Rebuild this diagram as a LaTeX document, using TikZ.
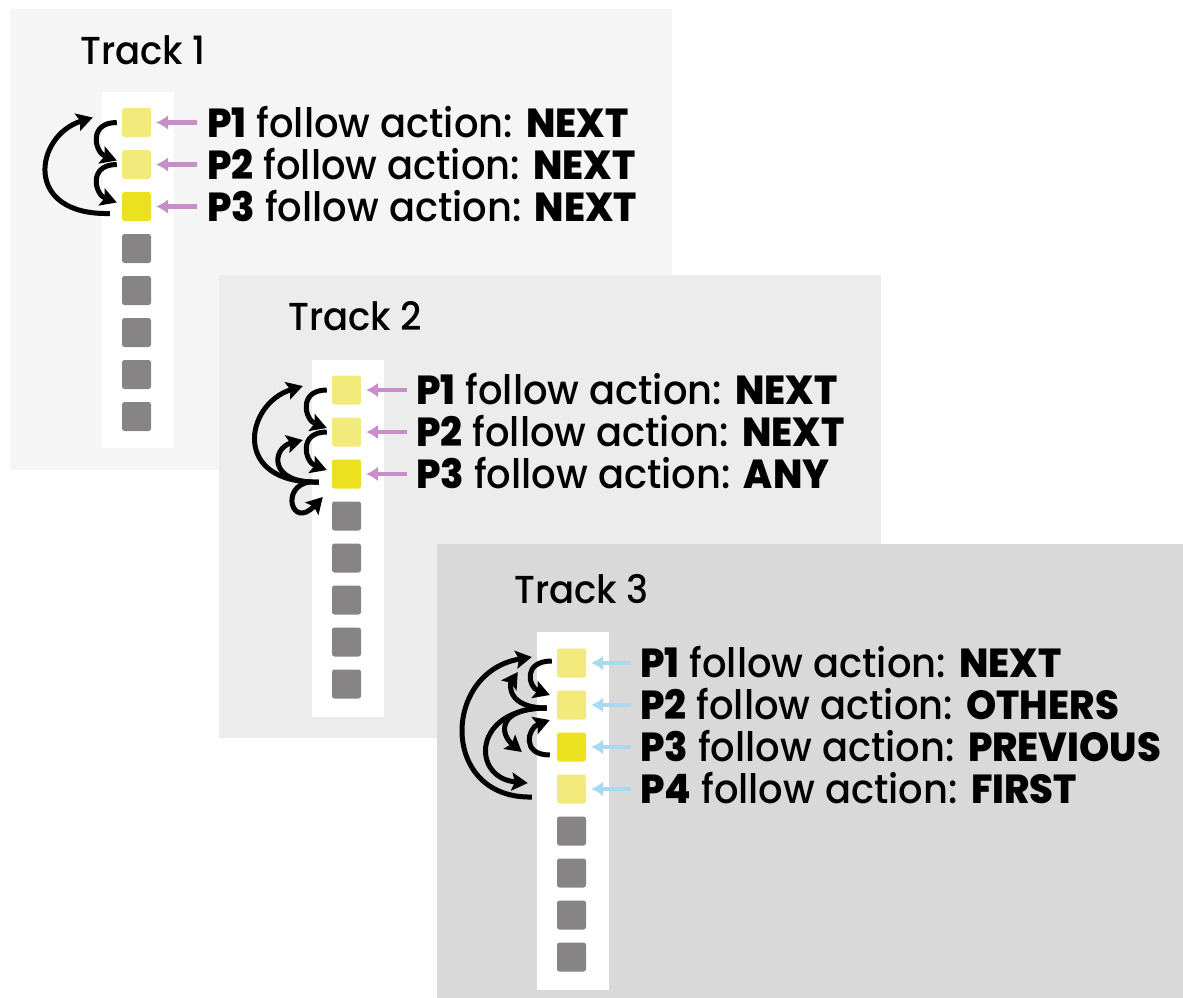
\documentclass[tikz,border=0pt]{standalone}
\usepackage{fontspec}
\setmainfont{Poppins}[UprightFont=* Medium, BoldFont=* ExtraBold, FakeStretch=0.95]
\usetikzlibrary{arrows.meta,calc}
\definecolor{pA}{HTML}{F5F5F5}
\definecolor{pB}{HTML}{ECECEC}
\definecolor{pC}{HTML}{D9D9D9}
\definecolor{ylight}{HTML}{F3EA7C}
\definecolor{ybright}{HTML}{ECE11E}
\definecolor{sqgray}{HTML}{878486}
\definecolor{pinkar}{HTML}{C88EC8}
\definecolor{bluear}{HTML}{A9D8F0}
\tikzset{
  sq/.style={rectangle, rounded corners=2.5pt, minimum size=29pt, inner sep=0pt, draw=none},
  ysq/.style={sq, fill=ylight},
  bsq/.style={sq, fill=ybright},
  gsq/.style={sq, fill=sqgray},
  lbl/.style={anchor=base west, inner sep=0pt, font=\fontsize{40.5}{41}\selectfont},
  ttl/.style={anchor=base west, inner sep=0pt, font=\fontsize{39}{39}\selectfont},
  pinkarrow/.style={draw=pinkar, line width=4.5pt, -{Latex[length=12pt,width=15pt]}},
  bluearrow/.style={draw=bluear, line width=4.5pt, -{Latex[length=12pt,width=15pt]}},
  curv/.style={draw=black, line width=5pt, -{Stealth[length=16pt,width=18pt,inset=3pt]}},
}
\begin{document}
\begin{tikzpicture}[x=1pt,y=-1pt]
\useasboundingbox[fill=white] (0,0) rectangle (1183,998);
% panels
\fill[pA] (10,9) rectangle (672,470);
\fill[pB] (219,275) rectangle (881,738);
\fill[pC] (437,544) rectangle (1183,998);
% white columns
\fill[white] (102,92) rectangle (174,448);
\fill[white] (312,360) rectangle (384,717);
\fill[white] (537,632) rectangle (609,990);
% titles
\node[ttl] (ttl1) at (80,64) {Track 1};
\node[ttl] (ttl2) at (288,330) {Track 2};
\node[ttl] (ttl3) at (514,603) {Track 3};
% ---------- Track 1 ----------
\node[ysq] (t1s1) at (136.5,122.5) {};
\node[ysq] (t1s2) at (136.5,164.5) {};
\node[bsq] (t1s3) at (136.5,206.5) {};
\foreach \i in {4,...,8} \node[gsq] (t1s\i) at (136.5,{122.5+42*(\i-1)}) {};
\node[lbl] (t1l1) at (207,137) {\textbf{P1} follow action: \textbf{NEXT}};
\node[lbl] (t1l2) at (207,179) {\textbf{P2} follow action: \textbf{NEXT}};
\node[lbl] (t1l3) at (207,221) {\textbf{P3} follow action: \textbf{NEXT}};
\foreach \i in {1,2,3} \draw[pinkarrow] ($(t1s\i.east)+(46,0)$) -- ($(t1s\i.east)+(5,0)$);
\draw[curv] ($(t1s1.west)+(-5,0)$) .. controls +(-29,0) and +(-22,-8) .. ($(t1s2.west)+(-5,-4)$);
\draw[curv] ($(t1s2.west)+(-5,0)$) .. controls +(-29,0) and +(-22,-8) .. ($(t1s3.west)+(-5,-4)$);
\draw[curv] ($(t1s3.west)+(-12,7)$) .. controls +(-88,2) and +(-58,18) .. ($(t1s1.west)+(-29,-5)$);
% ---------- Track 2 ----------
\node[ysq] (t2s1) at (346.5,390) {};
\node[ysq] (t2s2) at (346.5,432) {};
\node[bsq] (t2s3) at (346.5,474) {};
\foreach \i in {4,...,8} \node[gsq] (t2s\i) at (346.5,{390+42*(\i-1)}) {};
\node[lbl] (t2l1) at (416,404.5) {\textbf{P1} follow action: \textbf{NEXT}};
\node[lbl] (t2l2) at (416,446.5) {\textbf{P2} follow action: \textbf{NEXT}};
\node[lbl] (t2l3) at (416,488.5) {\textbf{P3} follow action: \textbf{ANY}};
\foreach \i in {1,2,3} \draw[pinkarrow] ($(t2s\i.east)+(46,0)$) -- ($(t2s\i.east)+(5,0)$);
\draw[curv] ($(t2s1.west)+(-5,0)$) .. controls +(-29,0) and +(-22,-8) .. ($(t2s2.west)+(-5,-4)$);
\draw[curv] ($(t2s2.west)+(-5,0)$) .. controls +(-29,0) and +(-22,-8) .. ($(t2s3.west)+(-5,-4)$);
\draw[curv] ($(t2s3.west)+(-13,8)$) .. controls +(-88,2) and +(-58,18) .. ($(t2s1.west)+(-29,-4)$);
\draw[curv] ($(t2s3.west)+(-13,8)$) .. controls +(-51,2) and +(-31,8) .. ($(t2s2.west)+(-29,8)$);
\draw[curv] ($(t2s3.west)+(-22,8)$) .. controls +(-30,4) and +(-31,33) .. ($(t2s4.west)+(-9,-19)$);
% ---------- Track 3 ----------
\node[ysq] (t3s1) at (571.5,663) {};
\node[ysq] (t3s2) at (571.5,705) {};
\node[bsq] (t3s3) at (571.5,747) {};
\node[ysq] (t3s4) at (571.5,789) {};
\foreach \i in {5,...,8} \node[gsq] (t3s\i) at (571.5,{663+42*(\i-1)}) {};
\node[lbl] (t3l1) at (640,677.5) {\textbf{P1} follow action: \textbf{NEXT}};
\node[lbl] (t3l2) at (640,719.5) {\textbf{P2} follow action: \textbf{OTHERS}};
\node[lbl] (t3l3) at (640,761.5) {\textbf{P3} follow action: \textbf{PREVIOUS}};
\node[lbl] (t3l4) at (640,803.5) {\textbf{P4} follow action: \textbf{FIRST}};
\foreach \i in {1,2,3,4} \draw[bluearrow] ($(t3s\i.east)+(45,0)$) -- ($(t3s\i.east)+(5,0)$);
\draw[curv] ($(t3s1.west)+(-5,-2)$) .. controls +(-29,0) and +(-22,-8) .. ($(t3s2.west)+(-7,-10)$);
\draw[curv] ($(t3s3.west)+(-7,8)$) .. controls +(-29,0) and +(-22,8) .. ($(t3s2.west)+(-7,15)$);
\draw[curv] ($(t3s2.west)+(-10,3)$) .. controls +(-40,0) and +(-8,12) .. ($(t3s1.west)+(-39,9)$);
\draw[curv] ($(t3s2.west)+(-10,3)$) .. controls +(-50,0) and +(-22,-18) .. ($(t3s3.west)+(-35,5)$);
\draw[curv] ($(t3s2.west)+(-10,3)$) .. controls +(-75,0) and +(-57,-5) .. ($(t3s4.west)+(-29,-6)$);
\draw[curv] ($(t3s4.west)+(-25,8)$) .. controls +(-92,2) and +(-90,15) .. ($(t3s1.west)+(-25,-6)$);
\end{tikzpicture}
\end{document}
